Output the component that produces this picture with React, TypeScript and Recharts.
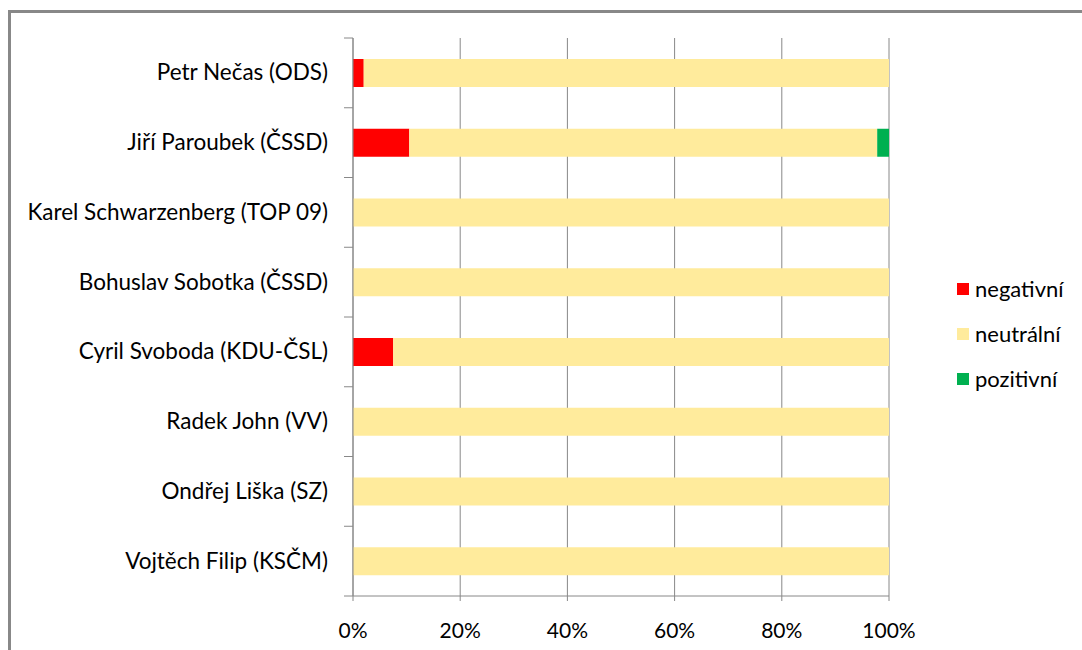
import React from "react"
import { Bar, BarChart, CartesianGrid, XAxis, YAxis } from "recharts"

const politicians = [
  "Petr Nečas (ODS)",
  "Jiří Paroubek (ČSSD)",
  "Karel Schwarzenberg (TOP 09)",
  "Bohuslav Sobotka (ČSSD)",
  "Cyril Svoboda (KDU-ČSL)",
  "Radek John (VV)",
  "Ondřej Liška (SZ)",
  "Vojtěch Filip (KSČM)",
]
const negativni = [2, 10.5, 0, 0, 7.5, 0, 0, 0]
const neutralni = [98, 87.3, 100, 100, 92.5, 100, 100, 100]
const pozitivni = [0, 2.2, 0, 0, 0, 0, 0, 0]
const xTicks = [0, 20, 40, 60, 80, 100]

const RED = "#ff0000"
const NEUTRAL = "#ffeb9c"
const GREEN = "#00b050"
const GRID = "#888888"
const FONT = "Lato, 'Noto Sans', sans-serif"

const data = politicians.map((name, i) => ({
  name,
  negativni: negativni[i],
  neutralni: neutralni[i],
  pozitivni: pozitivni[i],
}))

const W = 1082
const H = 650
const X_AXIS_H = 30
const M = { top: 38, right: 193, bottom: 24, left: 0 }
const band = (H - M.top - M.bottom - X_AXIS_H) / politicians.length

function CategoryTick(props: any) {
  const { x, y, payload, index } = props
  return (
    <g>
      <text x={x - 25} y={y} dy={7.5} textAnchor="end" fontSize={22.5} fill="#000" fontFamily={FONT}>
        {payload.value}
      </text>
      {index === 0 && <line x1={x - 9} x2={x} y1={y - band / 2} y2={y - band / 2} stroke={GRID} />}
      <line x1={x - 9} x2={x} y1={y + band / 2} y2={y + band / 2} stroke={GRID} />
    </g>
  )
}

const legendItems = [
  { label: "negativní", color: RED },
  { label: "neutrální", color: NEUTRAL },
  { label: "pozitivní", color: GREEN },
]

function LegendBox() {
  return (
    <div style={{ position: "absolute", left: 957, top: 266, fontFamily: FONT, fontSize: 22, color: "#000" }}>
      {legendItems.map((it) => (
        <div key={it.label} style={{ display: "flex", alignItems: "center", height: 45 }}>
          <span style={{ width: 12, height: 12, background: it.color, display: "inline-block", marginRight: 6 }} />
          <span>{it.label}</span>
        </div>
      ))}
    </div>
  )
}

export default function App() {
  return (
    <div style={{ position: "absolute", left: 0, top: 0, width: W, height: H, background: "#fff" }}>
      <div
        style={{
          position: "absolute",
          left: 8,
          top: 10,
          right: 0,
          bottom: 0,
          borderTop: `3px solid ${GRID}`,
          borderLeft: `3px solid ${GRID}`,
        }}
      />
      <BarChart width={W} height={H} data={data} layout="vertical" margin={M} barSize={28}>
        <CartesianGrid horizontal={false} vertical={true} stroke={GRID} />
        <XAxis
          type="number"
          domain={[0, 100]}
          ticks={xTicks}
          tickFormatter={(v) => `${v}%`}
          height={X_AXIS_H}
          axisLine={{ stroke: GRID }}
          tickLine={{ stroke: GRID }}
          tickSize={5}
          tickMargin={22}
          tick={{ fontSize: 21, fill: "#000", fontFamily: FONT }}
          interval={0}
        />
        <YAxis
          type="category"
          dataKey="name"
          width={353}
          axisLine={{ stroke: GRID }}
          tickLine={false}
          tickSize={0}
          tickMargin={0}
          tick={<CategoryTick />}
          interval={0}
        />
        <Bar dataKey="negativni" stackId="a" fill={RED} isAnimationActive={false} />
        <Bar dataKey="neutralni" stackId="a" fill={NEUTRAL} isAnimationActive={false} />
        <Bar dataKey="pozitivni" stackId="a" fill={GREEN} isAnimationActive={false} />
      </BarChart>
      <LegendBox />
    </div>
  )
}
